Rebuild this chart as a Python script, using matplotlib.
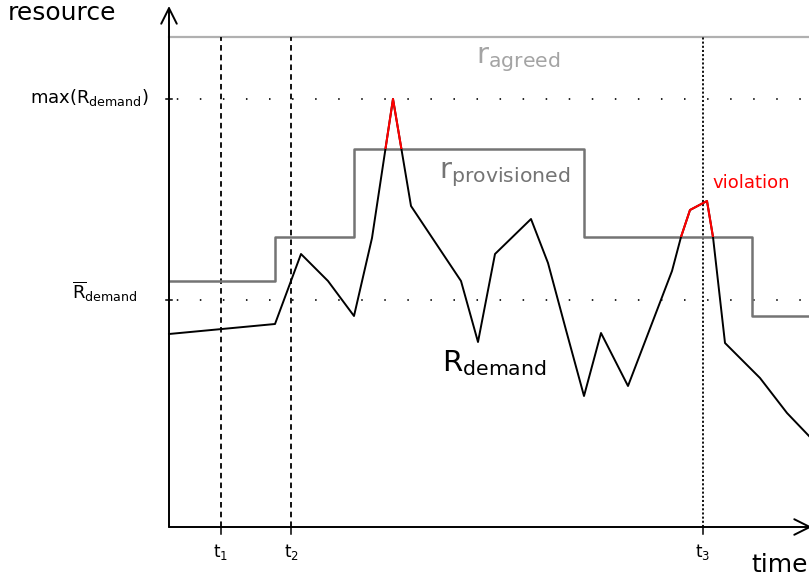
import numpy as np
import matplotlib
matplotlib.use("Agg")
import matplotlib.pyplot as plt
from matplotlib.patches import Polygon

plt.rcParams['font.family'] = ['DejaVu Sans']
plt.rcParams['mathtext.fontset'] = 'dejavusans'
plt.rcParams['lines.scale_dashes'] = False

# demand curve (time, resource)
demand_t = [0, 10.6, 13.2, 15.9, 18.5, 20.3, 22.4, 24.2, 29.2, 30.9, 32.6, 36.2, 37.9,
            39.7, 41.5, 43.2, 45.9, 50.3, 51.2, 52.1, 53.8, 54.4, 55.6, 59.1, 61.8, 64.0]
demand_r = [19.3, 20.3, 27.3, 24.6, 21.1, 28.9, 42.8, 32.1, 24.6, 18.5, 27.3, 30.8, 26.4,
            19.7, 13.1, 19.4, 14.1, 25.6, 29.0, 31.7, 32.6, 29.0, 18.4, 14.9, 11.4, 9.1]

# provisioned resource (step)
prov_t = [0, 10.6, 18.5, 41.5, 58.3, 64.0]
prov_r = [24.6, 29.0, 37.8, 29.0, 21.1, 21.1]

agreed_r = 49.0
max_demand = 42.8
mean_demand = 22.7
t_marks = [5.2, 12.2, 53.4]
t_labels = ['$\\mathrm{t}_1$', '$\\mathrm{t}_2$', '$\\mathrm{t}_3$']

fig = plt.figure(figsize=(8.09, 5.8), dpi=100)
ax = fig.add_axes([0, 0, 1, 1])
ax.set_xlim(-16.9, 64.0)
ax.set_ylim(-5.3, 52.7)
ax.axis('off')

# axes with arrows
ax.annotate('', xy=(0, 52.1), xytext=(0, 0), annotation_clip=False,
            arrowprops=dict(arrowstyle='->', lw=1.4, color='black', mutation_scale=28,
                            shrinkA=0, shrinkB=0))
ax.annotate('', xy=(64.3, 0), xytext=(0, 0), annotation_clip=False,
            arrowprops=dict(arrowstyle='->', lw=1.4, color='black', mutation_scale=28,
                            shrinkA=0, shrinkB=0))

# agreed line
ax.plot([0, 64.0], [agreed_r, agreed_r], color='#b0b0b0', lw=1.6)

# dotted reference levels
for lev in [max_demand, mean_demand]:
    ax.plot([0, 64.0], [lev, lev], color='black', lw=1.2, linestyle=(11, (1.1, 15.5)))
    ax.plot([-0.3, 0.3], [lev, lev], color='black', lw=1.1)

# time markers
ax.plot([t_marks[0]] * 2, [0, agreed_r], color='black', lw=1.3, linestyle=(0, (4, 3)))
ax.plot([t_marks[1]] * 2, [0, agreed_r], color='black', lw=1.3, linestyle=(0, (4, 3)))
ax.plot([t_marks[2]] * 2, [0, agreed_r], color='black', lw=1.3, linestyle=(0, (1.5, 1.5)))
for tm, lab in zip(t_marks, t_labels):
    ax.plot([tm, tm], [0, -0.7], color='black', lw=1.1)
    ax.text(tm, -3.0, lab, fontsize=12, ha='center', va='baseline')

# provisioned step
ax.step(prov_t, prov_r, where='post', color='#747474', lw=1.8)

# demand line, red where above provisioned
ax.plot(demand_t, demand_r, color='black', lw=1.4)
step_x = np.repeat(prov_t, 2)[1:]
step_y = np.repeat(prov_r, 2)[:-1]
clip_xy = np.column_stack([np.r_[step_x, 70, -20, -20], np.r_[step_y, 60, 60, prov_r[0]]])
clip = Polygon(clip_xy, closed=True, transform=ax.transData, facecolor='none', edgecolor='none')
ax.add_patch(clip)
red_line, = ax.plot(demand_t, demand_r, color='#ff0000', lw=1.5)
red_line.set_clip_path(clip)

# labels
ax.text(30.7, 46.4, '$\\mathrm{r}_{\\mathrm{agreed}}$', fontsize=21, color='#a4a4a4',
        ha='left', va='baseline')
ax.text(27.0, 34.9, '$\\mathrm{r}_{\\mathrm{provisioned}}$', fontsize=21, color='#747474',
        ha='left', va='baseline')
ax.text(27.3, 15.6, '$\\mathrm{R}_{\\mathrm{demand}}$', fontsize=21, color='black',
        ha='left', va='baseline')
ax.text(54.3, 33.9, 'violation', fontsize=13, color='#ff0000', ha='left', va='baseline')

ax.text(-16.1, 50.7, 'resource', fontsize=18, ha='left', va='baseline')
ax.text(58.2, -4.5, 'time', fontsize=18, ha='left', va='baseline')
ax.text(-2.0, max_demand - 0.4, '$\\mathrm{max}(\\mathrm{R}_{\\mathrm{demand}})$', fontsize=13,
        ha='right', va='baseline')
ax.text(-9.7, mean_demand + 0.1, '$\\overline{\\mathrm{R}}_{\\mathrm{demand}}$', fontsize=13,
        ha='left', va='baseline')

fig.savefig('out.png', dpi=100)
